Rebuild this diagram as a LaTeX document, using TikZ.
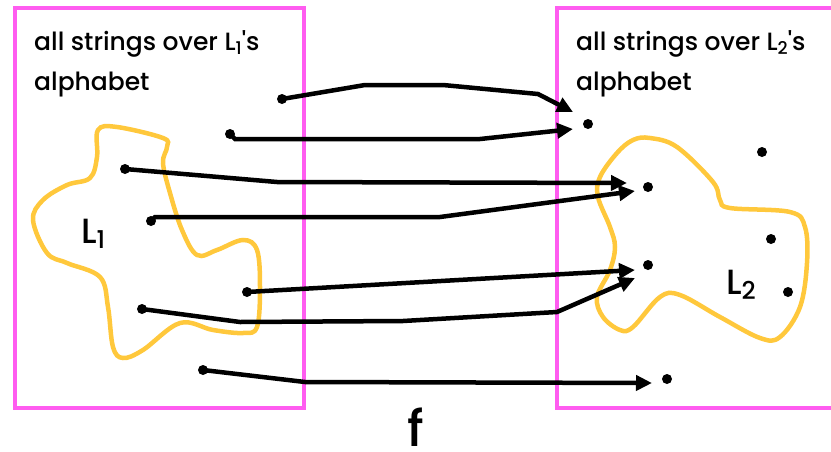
\documentclass[tikz,border=0pt]{standalone}
\usepackage{fontspec}
\setmainfont{Poppins}[UprightFont=* Medium]
\usetikzlibrary{arrows.meta}
\definecolor{boxpink}{HTML}{FF5CF0}
\definecolor{setyellow}{HTML}{FFC83C}
\newcommand{\langsub}[1]{\raisebox{-0.3ex}{\scalebox{0.7}{#1}}}

\begin{document}
\begin{tikzpicture}[x=1pt, y=-1pt,
    setbox/.style={draw=boxpink, line width=3.5pt},
    blob/.style={draw=setyellow, line width=4.5pt},
    dot/.style={circle, fill, inner sep=0pt, minimum size=10pt},
    arr/.style={-{Triangle[length=16pt,width=15pt]}, line width=4.5pt},
    lbl/.style={font=\fontsize{25}{40}\selectfont, align=left, inner sep=0pt, anchor=base west},
    setname/.style={font=\fontsize{35}{40}\selectfont, inner sep=0pt, anchor=base west}
  ]
    \useasboundingbox (0,0) rectangle (831,451);
    % the two universes
    \draw[setbox] (15,8) rectangle (304,408);
    \draw[setbox] (557,8) rectangle (840,408);
    \node[lbl] (univA) at (34,90) {all strings over L\langsub{1}\textquotesingle s\\alphabet};
    \node[lbl] (univB) at (576,90) {all strings over L\langsub{2}\textquotesingle s\\alphabet};
    % the languages
    \draw[blob] plot[smooth cycle, tension=0.6] coordinates {
      (98,130) (117,127) (163,138) (167,147) (163,163) (170,193) (182,230)
      (197,255) (217,250) (243,240) (257,250) (260,287) (257,327) (243,333)
      (213,330) (180,323) (143,350) (123,358) (113,347) (108,307) (100,277)
      (67,263) (47,253) (33,220) (43,200) (67,185) (90,178) (97,157)};
    \draw[blob] plot[smooth cycle, tension=0.6] coordinates {
      (650,138) (677,147) (713,182) (720,200) (730,208) (790,212) (805,227)
      (807,263) (800,307) (780,337) (760,338) (720,317) (680,295) (660,297)
      (633,327) (620,330) (603,317) (597,297) (610,270) (615,247) (610,227)
      (598,197) (600,177) (617,153) (633,140)};
    \node[setname] (nameA) at (81,243) {L\langsub{1}};
    \node[setname] (nameB) at (726,294) {L\langsub{2}};
    % strings
    \node[dot] (a1) at (282,99) {};
    \node[dot] (a2) at (230,134) {};
    \node[dot] (a3) at (125,169) {};
    \node[dot] (a4) at (151,221) {};
    \node[dot] (a5) at (247,292) {};
    \node[dot] (a6) at (142,309) {};
    \node[dot] (a7) at (203,370) {};
    \node[dot] (b1) at (588,124) {};
    \node[dot] (b2) at (762,152) {};
    \node[dot] (b3) at (648,187) {};
    \node[dot] (b4) at (771,239) {};
    \node[dot] (b5) at (648,265) {};
    \node[dot] (b6) at (788,292) {};
    \node[dot] (b7) at (667,379) {};
    % arrow ends
    \coordinate (t1) at (573,112);
    \coordinate (t2) at (573,129);
    \coordinate (t3) at (627,183);
    \coordinate (t4) at (635,191);
    \coordinate (t5) at (635,270);
    \coordinate (t6) at (635,278);
    \coordinate (t7) at (652,383);
    % the mapping f
    \draw[arr] (a1.center) -- (365,85) -- (443,85) -- (538,94) -- (t1);
    \draw[arr] (a2.center) -- (235,139) -- (480,139) -- (t2);
    \draw[arr] (a3.center) -- (277,182) -- (t3);
    \draw[arr] (a4.center) -- (155,217) -- (440,217) -- (t4);
    \draw[arr] (a5.center) -- (t5);
    \draw[arr] (a6.center) -- (240,322) -- (403,321) -- (557,312) -- (t6);
    \draw[arr] (a7.center) -- (305,382) -- (t7);
    \node[font=\fontsize{50}{50}\selectfont, inner sep=0pt, anchor=base west] (fname) at (407,446) {f};
  \end{tikzpicture}
\end{document}
